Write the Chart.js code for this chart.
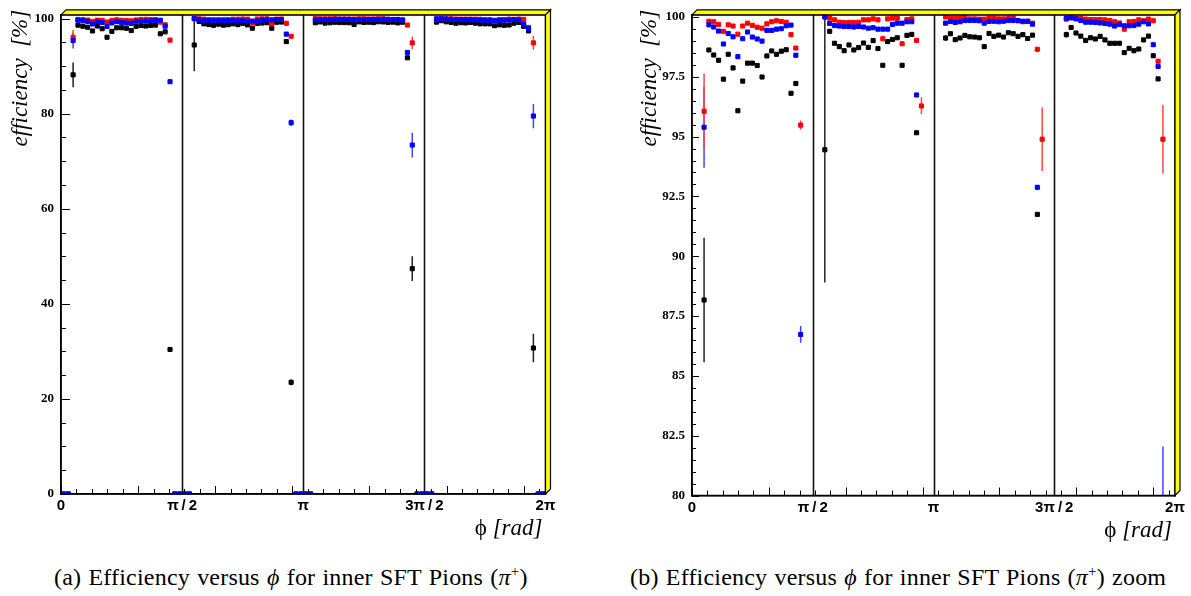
<!DOCTYPE html>
<html>
<head>
<meta charset="utf-8">
<script src="https://cdn.jsdelivr.net/npm/chart.js@4.4.0/dist/chart.umd.min.js"></script>
<style>
    body { margin: 0; background: #fff; width: 1191px; height: 596px; overflow: hidden; position: relative; }
    .panel { position: absolute; top: 0; height: 545px; }
    .caption { position: absolute; top: 563px; font-family: 'Liberation Serif', serif; font-size: 24px; letter-spacing: 0.2px; word-spacing: 1px; white-space: nowrap; color: #000; }
    .caption sup { font-size: 15px; }
</style>
</head>
<body>
<div class="panel" style="left:0;width:570px"><canvas id="effChart"></canvas></div>
<div class="panel" style="left:630px;width:561px"><canvas id="effZoomChart"></canvas></div>
<div class="caption" style="left:54px">(a) Efficiency versus <i>ϕ</i> for inner SFT Pions (<i>π</i><sup>+</sup>)</div>
<div class="caption" style="left:630px">(b) Efficiency versus <i>ϕ</i> for inner SFT Pions (<i>π</i><sup>+</sup>) zoom</div>
<script>
// 100 bins in phi, 4 SFT sectors of 25 bins each
const nBins = 100;
const binIndex = Array.from({ length: nBins }, (_, i) => i);
const xTickValues = [0, Math.PI / 2, Math.PI, 3 * Math.PI / 2, 2 * Math.PI];
const xTickLabels = ['0', 'π\u2009/\u20092', 'π', '3π\u2009/\u20092', '2π'];
const sectorEdges = [Math.PI / 2, Math.PI, 3 * Math.PI / 2];
const yTicksFull = [0, 20, 40, 60, 80, 100];
const yTicksZoom = [80, 82.5, 85, 87.5, 90, 92.5, 95, 97.5, 100];

// efficiencies [%] per bin
const effBlack = [
    0, 0, 88.17,
    98.62, 98.41, 98.19, 97.40, 98.44, 97.87, 96.08, 97.32, 98.07, 98.07, 97.97, 97.49, 98.37, 98.58, 98.44, 98.57, 98.63, 96.81, 97.22,
    30.4, 0, 0, 0, 0, 94.45,
    99.40, 98.90, 98.76, 98.59, 98.83, 98.62, 98.72, 98.91, 98.73, 99.01, 98.68, 97.98, 98.97, 99.06, 99.13, 97.98, 99.23, 99.27, 95.16,
    23.5, 0, 0, 0, 0,
    99.12, 99.30, 99.05, 99.12, 99.23, 99.17, 99.16, 99.13, 98.76, 99.31, 99.19, 99.24, 99.16, 99.34, 99.30, 99.19, 99.26, 99.10, 99.24,
    91.75, 47.4, 0, 0, 0, 0,
    99.26, 99.56, 99.33, 99.20, 99.02, 99.13, 99.08, 99.19, 99.04, 98.90, 98.90, 98.90, 98.51, 98.69, 98.59, 98.66, 99.04, 99.20, 98.38, 97.41,
    30.7, 0, 0
];
const effRed = [
    0, 0, 96.06,
    99.82, 99.80, 99.69, 99.40, 99.67, 99.62, 99.28, 99.62, 99.74, 99.65, 99.57, 99.53, 99.71, 99.80, 99.84, 99.81, 99.78, 99.26, 98.70,
    95.48, 0, 0, 0, 0, 100,
    99.95, 99.88, 99.78, 99.77, 99.77, 99.77, 99.78, 99.88, 99.88, 99.92, 99.88, 99.09, 99.92, 99.95, 99.95, 98.88, 99.89, 99.92, 99.02,
    96.28, 0, 0, 0, 0,
    100, 99.95, 99.95, 99.95, 99.98, 99.92, 99.92, 99.91, 99.91, 99.95, 99.95, 99.92, 99.92, 99.95, 99.95, 99.84, 99.80, 99.82, 99.74,
    98.65, 94.89, 0, 0, 0, 0,
    99.91, 99.98, 99.95, 99.95, 99.91, 99.89, 99.89, 99.89, 99.88, 99.85, 99.80, 99.75, 99.49, 99.80, 99.81, 99.88, 99.84, 99.91, 99.84, 98.15,
    94.89, 0, 0
];
const effBlue = [
    0, 0, 95.39,
    99.67, 99.58, 99.41, 98.87, 99.31, 99.17, 98.34, 99.09, 99.37, 99.16, 99.08, 98.99, 99.44, 99.44, 99.49, 99.51, 99.63, 99.66, 98.40,
    86.73, 0, 0, 0, 0, 100,
    99.73, 99.64, 99.62, 99.60, 99.60, 99.58, 99.60, 99.58, 99.53, 99.55, 99.49, 99.49, 99.49, 99.69, 99.74, 99.74, 99.80, 99.80, 96.74,
    78.1, 0, 0, 0, 0,
    99.74, 99.81, 99.77, 99.80, 99.85, 99.85, 99.85, 99.84, 99.74, 99.81, 99.82, 99.80, 99.82, 99.85, 99.85, 99.85, 99.82, 99.82, 99.70,
    92.88, 73.4, 0, 0, 0, 0,
    99.95, 99.96, 99.92, 99.85, 99.78, 99.78, 99.77, 99.75, 99.73, 99.70, 99.62, 99.69, 99.63, 99.63, 99.64, 99.70, 99.80, 99.71, 98.84, 97.93,
    79.5, 0, 0
];

// statistical errors (only bins where they are visible), bin -> error
const errBlack = { 2: 2.6, 22: 0.3, 27: 5.55, 47: 0.6, 52: 0.12, 72: 2.6, 77: 0.12, 97: 3.0 };
const errRed = { 2: 1.58, 22: 0.19, 47: 0.35, 72: 1.33, 97: 1.43 };
const errBlue = { 2: 1.69, 22: 0.35, 47: 0.7, 72: 2.6, 97: 2.55 };

function binCenter(i) {
    return (i + 0.5) * 2 * Math.PI / nBins;
}

function toPoints(values) {
    return binIndex.map(i => ({ x: binCenter(i), y: values[i] }));
}

// sector lines, error bars, inward ticks, yellow ROOT frame, axis titles
const rootFrame = {
    id: 'rootFrame',
    beforeDatasetsDraw(chart) {
        const { ctx, chartArea: a, scales: { x, y } } = chart;
        ctx.save();
        ctx.beginPath();
        ctx.rect(a.left, a.top, a.right - a.left, a.bottom - a.top);
        ctx.clip();
        ctx.strokeStyle = '#111';
        ctx.lineWidth = 1.6;
        sectorEdges.forEach(v => {
            const px = Math.round(x.getPixelForValue(v)) + 0.5;
            ctx.beginPath();
            ctx.moveTo(px, a.top);
            ctx.lineTo(px, a.bottom);
            ctx.stroke();
        });
        chart.data.datasets.forEach(ds => {
            ctx.strokeStyle = ds.errorColor;
            ctx.lineWidth = 1.5;
            Object.keys(ds.errors).forEach(bin => {
                const p = ds.data[bin];
                const e = ds.errors[bin];
                const px = x.getPixelForValue(p.x);
                ctx.beginPath();
                ctx.moveTo(px, y.getPixelForValue(p.y + e));
                ctx.lineTo(px, y.getPixelForValue(p.y - e));
                ctx.stroke();
            });
        });
        ctx.restore();
    },
    afterDraw(chart, args, opts) {
        const { ctx, chartArea: a, scales: { x, y } } = chart;
        ctx.save();
        ctx.strokeStyle = '#000';
        ctx.lineWidth = 1;
        // y ticks
        const nY = Math.round((opts.yMax - opts.yMin) / opts.yMinor);
        for (let k = 0; k <= nY; k++) {
            const v = opts.yMin + k * opts.yMinor;
            if (v > y.max) break;
            const major = Math.abs(v / opts.yMajor - Math.round(v / opts.yMajor)) < 1e-6;
            const py = Math.round(y.getPixelForValue(v)) + 0.5;
            ctx.beginPath();
            ctx.moveTo(a.left, py);
            ctx.lineTo(a.left + (major ? opts.tickMajor : opts.tickMinor), py);
            ctx.stroke();
        }
        // x ticks every 0.2 rad, major every rad
        for (let k = 0; k * 0.2 < x.max; k++) {
            const px = Math.round(x.getPixelForValue(k * 0.2)) + 0.5;
            ctx.beginPath();
            ctx.moveTo(px, a.bottom);
            ctx.lineTo(px, a.bottom - (k % 5 === 0 ? 8 : 5));
            ctx.stroke();
        }
        // frame
        ctx.lineWidth = 1.5;
        ctx.strokeRect(a.left, a.top, a.right - a.left, a.bottom - a.top);
        const d = 5;
        ctx.fillStyle = '#ffff00';
        ctx.lineWidth = 1.2;
        ctx.beginPath();
        ctx.moveTo(a.left, a.top);
        ctx.lineTo(a.left + d, a.top - d);
        ctx.lineTo(a.right + d, a.top - d);
        ctx.lineTo(a.right, a.top);
        ctx.closePath();
        ctx.fill();
        ctx.stroke();
        ctx.beginPath();
        ctx.moveTo(a.right, a.top);
        ctx.lineTo(a.right + d, a.top - d);
        ctx.lineTo(a.right + d, a.bottom - d);
        ctx.lineTo(a.right, a.bottom);
        ctx.closePath();
        ctx.fill();
        ctx.stroke();
        // axis titles
        ctx.fillStyle = '#000';
        ctx.textBaseline = 'alphabetic';
        ctx.font = 'italic 23px "Liberation Serif"';
        ctx.textAlign = 'right';
        const rad = ' [rad]';
        const radW = ctx.measureText(rad).width;
        ctx.fillText(rad, a.right - 3, a.bottom + 41);
        ctx.font = '23px "Liberation Serif"';
        ctx.fillText('ϕ', a.right - 3 - radW, a.bottom + 41);
        ctx.translate(opts.yTitleX, a.top - 5);
        ctx.rotate(-Math.PI / 2);
        ctx.font = 'italic 23px "Liberation Serif"';
        ctx.textAlign = 'right';
        ctx.fillText('efficiency  [%]', 0, 0);
        ctx.restore();
    }
};

function crearPanel(canvasId, cfg) {
    const ctx = document.getElementById(canvasId);
    return new Chart(ctx, {
        type: 'scatter',
        data: {
            datasets: [
                { label: 'blue', data: toPoints(effBlue), errors: errBlue, errorColor: '#4444ff',
                  backgroundColor: '#0000ff', borderColor: '#0000ff' },
                { label: 'red', data: toPoints(effRed), errors: errRed, errorColor: '#ff4444',
                  backgroundColor: '#ff0000', borderColor: '#ff0000' },
                { label: 'black', data: toPoints(effBlack), errors: errBlack, errorColor: '#222',
                  backgroundColor: '#000', borderColor: '#000' }
            ]
        },
        options: {
            responsive: true,
            maintainAspectRatio: false,
            animation: false,
            events: [],
            layout: { padding: { top: cfg.padTop, right: cfg.padRight, left: 0, bottom: 0 } },
            elements: {
                point: { pointStyle: 'rect', radius: 2.9, borderWidth: 1 }
            },
            scales: {
                x: {
                    type: 'linear',
                    min: 0,
                    max: 2 * Math.PI,
                    afterBuildTicks: s => { s.ticks = xTickValues.map(v => ({ value: v })); },
                    afterFit: s => { s.height = cfg.xHeight; },
                    grid: { display: false, drawTicks: false },
                    border: { display: true, color: '#000', width: 1.5 },
                    ticks: {
                        autoSkip: false,
                        maxRotation: 0,
                        padding: 3,
                        color: '#000',
                        font: { family: 'Liberation Sans', weight: 'bold', size: 15 },
                        callback: (v, i) => xTickLabels[i]
                    }
                },
                y: {
                    type: 'linear',
                    min: cfg.yMin,
                    max: cfg.yMax,
                    afterBuildTicks: s => { s.ticks = cfg.yTicks.map(v => ({ value: v })); },
                    afterFit: s => { s.width = cfg.yWidth; },
                    grid: { display: false, drawTicks: false },
                    border: { display: true, color: '#000', width: 1.5 },
                    ticks: {
                        padding: 7,
                        color: '#000',
                        font: { family: 'Liberation Serif', weight: 'bold', size: 13 },
                        callback: v => String(v)
                    }
                }
            },
            plugins: {
                legend: { display: false },
                tooltip: { enabled: false },
                rootFrame: {
                    yMin: cfg.yMin, yMax: cfg.yMax, yMajor: cfg.yMajor, yMinor: cfg.yMinor,
                    tickMajor: cfg.tickMajor, tickMinor: cfg.tickMinor, yTitleX: cfg.yTitleX
                }
            }
        },
        plugins: [rootFrame]
    });
}

crearPanel('effChart', {
    yMin: 0, yMax: 100.8, yTicks: yTicksFull, yMajor: 20, yMinor: 5,
    tickMajor: 9, tickMinor: 5,
    padTop: 12.5, padRight: 24.5, xHeight: 51, yWidth: 61, yTitleX: 27
});
crearPanel('effZoomChart', {
    yMin: 80, yMax: 100.09, yTicks: yTicksZoom, yMajor: 2.5, yMinor: 0.5,
    tickMajor: 7, tickMinor: 4,
    padTop: 12, padRight: 16, xHeight: 49.5, yWidth: 62, yTitleX: 26
});
</script>
</body>
</html>
